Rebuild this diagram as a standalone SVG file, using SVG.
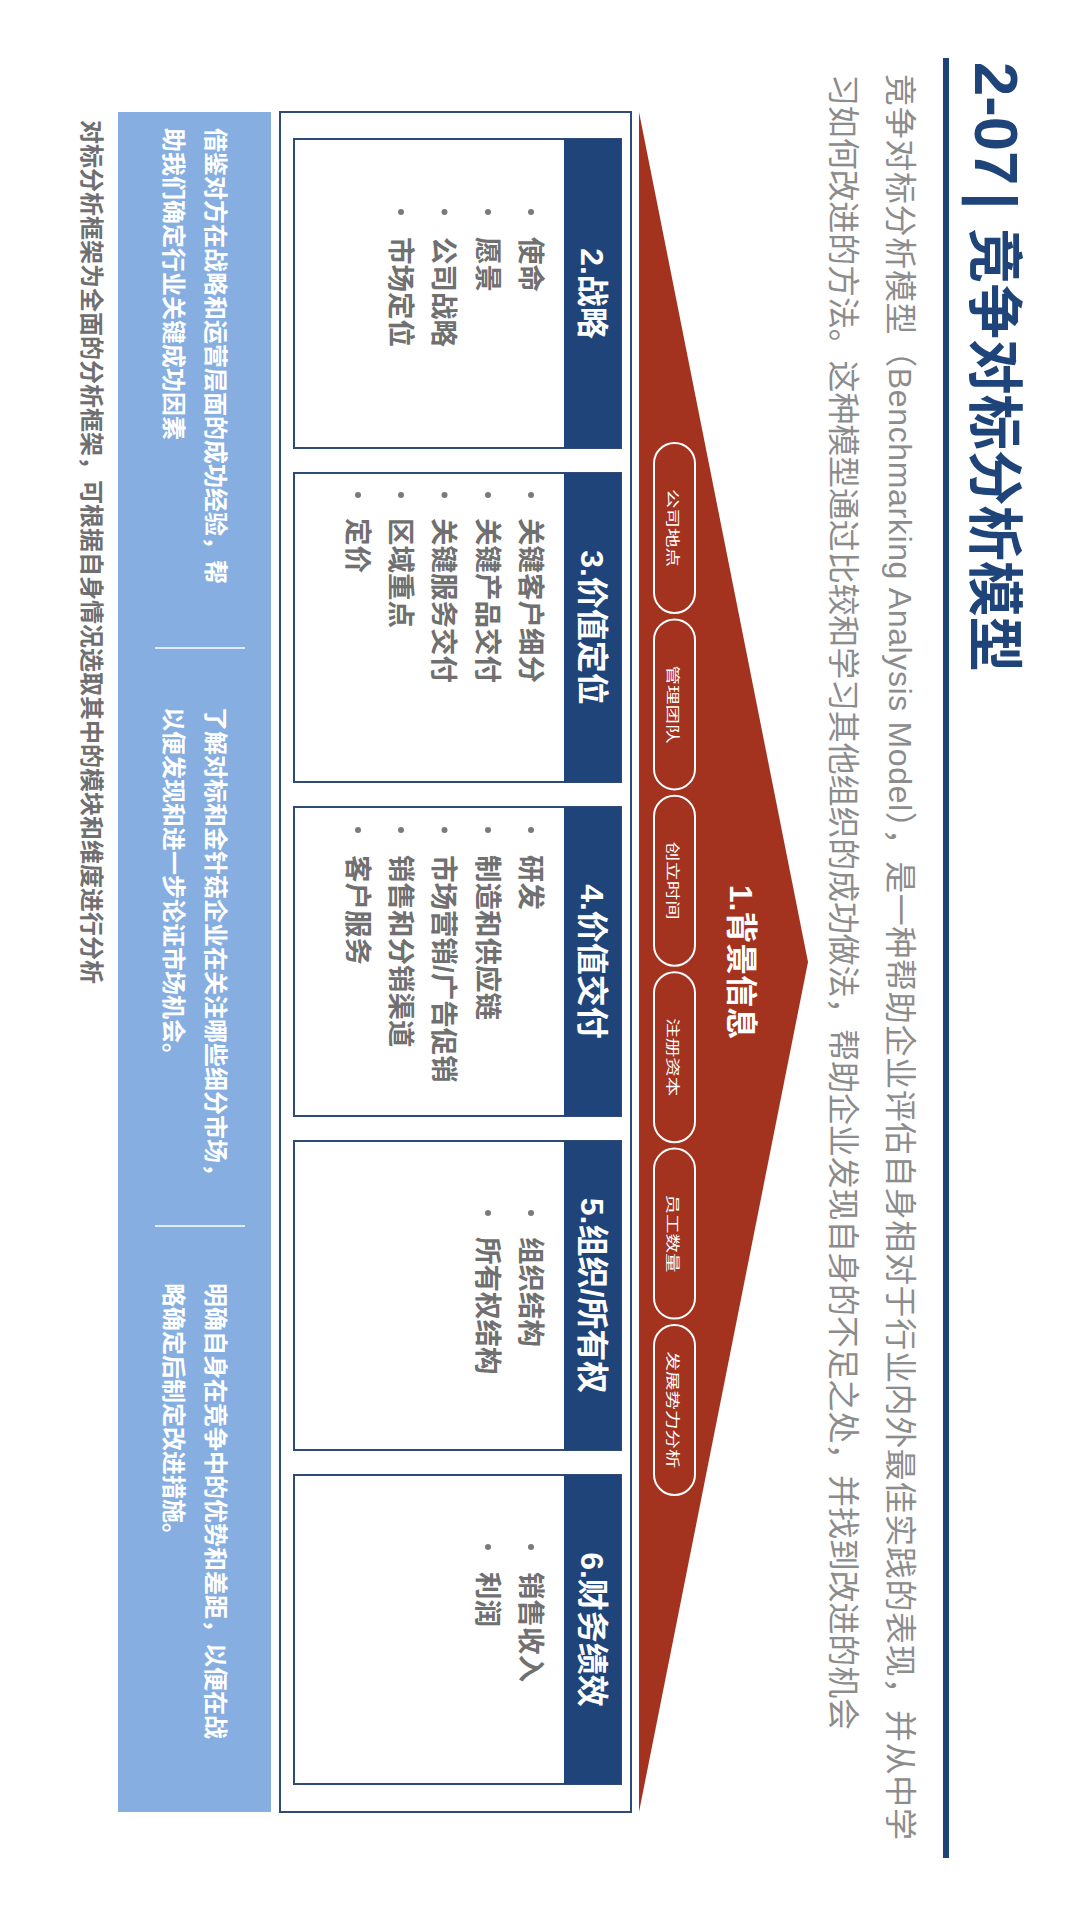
<svg xmlns="http://www.w3.org/2000/svg" width="1080" height="1916" viewBox="0 0 1080 1916">
<style>
text{font-family:"Liberation Sans","Noto Sans CJK SC",sans-serif}
.ttl{fill:#1f4479;font-weight:700}
.desc{fill:#8c8c8c;font-size:32px}
.hdr{fill:#ffffff;font-weight:700;font-size:32px}
.item{fill:#707070;font-weight:700;font-size:27.5px}
.dot{fill:#7a7a7a}
.box{fill:#ffffff;stroke:#2e4b78;stroke-width:2}
.bar{fill:#1f4479}
.pill{fill:none;stroke:#ffffff;stroke-width:2}
.ptxt{fill:#ffffff;font-size:19.5px}
.ptext{fill:#ffffff;font-weight:700;font-size:24px}
.sep{stroke:#ffffff;stroke-width:1.5}
.foot{fill:#6f6f6f;font-weight:700;font-size:24px}
</style>
<rect x="0" y="0" width="1080" height="1916" fill="#ffffff"/>
<g transform="translate(1080,0) rotate(90)">
  <g id="title">
    <text class="ttl" x="62" y="105" font-size="61.5">2-07</text>
    <text class="ttl" x="201" y="105" font-size="60" text-anchor="middle">|</text>
    <text class="ttl" x="228" y="105" font-size="56" textLength="444" lengthAdjust="spacingAndGlyphs">竞争对标分析模型</text>
    <rect x="58" y="131" width="1800" height="6" fill="#1f4479"/>
  </g>
  <g id="description">
    <text class="desc" x="74" y="191" textLength="1766" lengthAdjust="spacing">竞争对标分析模型（Benchmarking Analysis Model），是一种帮助企业评估自身相对于行业内外最佳实践的表现，并从中学</text>
    <text class="desc" x="74" y="248" textLength="1656" lengthAdjust="spacing">习如何改进的方法。这种模型通过比较和学习其他组织的成功做法，帮助企业发现自身的不足之处，并找到改进的机会</text>
  </g>
  <g id="node-1">
    <polygon points="112,441 962,272 1812,441" fill="#a3321f"/>
    <text class="hdr" x="962" y="350" font-size="31" text-anchor="middle">1.背景信息</text>
    <rect class="pill" x="443" y="385" width="170" height="41" rx="20.5"/>
    <rect class="pill" x="619.4" y="385" width="170" height="41" rx="20.5"/>
    <rect class="pill" x="795.8" y="385" width="170" height="41" rx="20.5"/>
    <rect class="pill" x="972.2" y="385" width="170" height="41" rx="20.5"/>
    <rect class="pill" x="1148.6" y="385" width="170" height="41" rx="20.5"/>
    <rect class="pill" x="1325" y="385" width="170" height="41" rx="20.5"/>
    <g transform="translate(0,407) scale(1,0.7)">
      <text class="ptxt" x="528" y="7" text-anchor="middle">公司地点</text>
      <text class="ptxt" x="704.4" y="7" text-anchor="middle">管理团队</text>
      <text class="ptxt" x="880.8" y="7" text-anchor="middle">创立时间</text>
      <text class="ptxt" x="1057.2" y="7" text-anchor="middle">注册资本</text>
      <text class="ptxt" x="1233.6" y="7" text-anchor="middle">员工数量</text>
      <text class="ptxt" x="1410" y="7" text-anchor="middle">发展势力分析</text>
    </g>
  </g>
  <rect id="frame" x="112" y="449" width="1700" height="351" fill="none" stroke="#2e4b78" stroke-width="2"/>
  <g id="node-2">
    <rect class="box" x="139" y="459" width="309" height="327"/>
    <rect class="bar" x="139" y="459" width="309" height="57"/>
    <text class="hdr" x="293.5" y="499" text-anchor="middle">2.战略</text>
    <circle class="dot" cx="212" cy="549" r="3"/>
    <circle class="dot" cx="212" cy="592" r="3"/>
    <circle class="dot" cx="212" cy="635.5" r="3"/>
    <circle class="dot" cx="212" cy="679" r="3"/>
    <text class="item" x="237" y="559.5">使命</text>
    <text class="item" x="237" y="602.5">愿景</text>
    <text class="item" x="237" y="646">公司战略</text>
    <text class="item" x="237" y="689.5">市场定位</text>
  </g>
  <g id="node-3">
    <rect class="box" x="473" y="459" width="309" height="327"/>
    <rect class="bar" x="473" y="459" width="309" height="57"/>
    <text class="hdr" x="627.5" y="499" text-anchor="middle">3.价值定位</text>
    <circle class="dot" cx="495" cy="549" r="3"/>
    <circle class="dot" cx="495" cy="592" r="3"/>
    <circle class="dot" cx="495" cy="635.5" r="3"/>
    <circle class="dot" cx="495" cy="679" r="3"/>
    <circle class="dot" cx="495" cy="722" r="3"/>
    <text class="item" x="518" y="559.5">关键客户细分</text>
    <text class="item" x="518" y="602.5">关键产品交付</text>
    <text class="item" x="518" y="646">关键服务交付</text>
    <text class="item" x="518" y="689.5">区域重点</text>
    <text class="item" x="518" y="732.5">定价</text>
  </g>
  <g id="node-4">
    <rect class="box" x="807" y="459" width="309" height="327"/>
    <rect class="bar" x="807" y="459" width="309" height="57"/>
    <text class="hdr" x="961.5" y="499" text-anchor="middle">4.价值交付</text>
    <circle class="dot" cx="830" cy="549" r="3"/>
    <circle class="dot" cx="830" cy="592" r="3"/>
    <circle class="dot" cx="830" cy="635.5" r="3"/>
    <circle class="dot" cx="830" cy="679" r="3"/>
    <circle class="dot" cx="830" cy="722" r="3"/>
    <text class="item" x="855" y="559.5">研发</text>
    <text class="item" x="855" y="602.5">制造和供应链</text>
    <text class="item" x="855" y="646">市场营销/广告促销</text>
    <text class="item" x="855" y="689.5">销售和分销渠道</text>
    <text class="item" x="855" y="732.5">客户服务</text>
  </g>
  <g id="node-5">
    <rect class="box" x="1141" y="459" width="309" height="327"/>
    <rect class="bar" x="1141" y="459" width="309" height="57"/>
    <text class="hdr" x="1295.5" y="499" text-anchor="middle">5.组织/所有权</text>
    <circle class="dot" cx="1213" cy="549" r="3"/>
    <circle class="dot" cx="1213" cy="592" r="3"/>
    <text class="item" x="1237" y="559.5">组织结构</text>
    <text class="item" x="1237" y="602.5">所有权结构</text>
  </g>
  <g id="node-6">
    <rect class="box" x="1475" y="459" width="309" height="327"/>
    <rect class="bar" x="1475" y="459" width="309" height="57"/>
    <text class="hdr" x="1629.5" y="499" text-anchor="middle">6.财务绩效</text>
    <circle class="dot" cx="1547" cy="549" r="3"/>
    <circle class="dot" cx="1547" cy="592" r="3"/>
    <text class="item" x="1572" y="559.5">销售收入</text>
    <text class="item" x="1572" y="602.5">利润</text>
  </g>
  <g id="connectors"></g>
  <g id="panel">
    <rect x="112" y="809" width="1700" height="153" fill="#86aee0"/>
    <line class="sep" x1="648" y1="835" x2="648" y2="925"/>
    <line class="sep" x1="1226" y1="835" x2="1226" y2="925"/>
    <text class="ptext" x="128" y="873">借鉴对方在战略和运营层面的成功经验，帮</text>
    <text class="ptext" x="128" y="915">助我们确定行业关键成功因素</text>
    <text class="ptext" x="707" y="873">了解对标和金针菇企业在关注哪些细分市场，</text>
    <text class="ptext" x="707" y="915">以便发现和进一步论证市场机会。</text>
    <text class="ptext" x="1283" y="873">明确自身在竞争中的优势和差距，以便在战</text>
    <text class="ptext" x="1283" y="915">略确定后制定改进措施。</text>
  </g>
  <g id="footer">
    <text class="foot" x="120" y="997">对标分析框架为全面的分析框架，可根据自身情况选取其中的模块和维度进行分析</text>
  </g>
</g>
</svg>
